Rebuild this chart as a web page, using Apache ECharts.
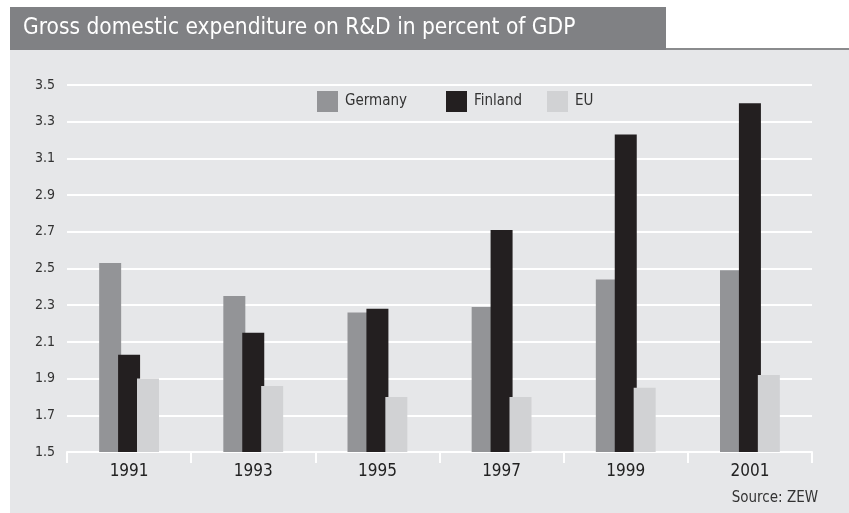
<!DOCTYPE html>
<html>
<head>
<meta charset="utf-8">
<script src="https://cdn.jsdelivr.net/npm/echarts@6/dist/echarts.min.js"></script>
<style>
  html, body { margin: 0; padding: 0; background: #ffffff; }
  #chart { width: 849px; height: 513px; }
</style>
</head>
<body>
<div id="chart"></div>
<script>
// R&D expenditure as a share of GDP, by year
const years = ['1991', '1993', '1995', '1997', '1999', '2001'];
const germany = [2.53, 2.35, 2.26, 2.29, 2.44, 2.49];
const finland = [2.03, 2.15, 2.28, 2.71, 3.23, 3.40];
const eu = [1.90, 1.86, 1.80, 1.80, 1.85, 1.92];
const seriesNames = ['Germany', 'Finland', 'EU'];
const yTicks = { min: 1.5, max: 3.5, step: 0.2 };

const FONT = '"DejaVu Sans Condensed", "DejaVu Sans", sans-serif';
const colors = { Germany: '#939497', Finland: '#231f20', EU: '#d1d2d4' };

const chart = echarts.init(document.getElementById('chart'), null, { renderer: 'canvas' });

function legendAt(name, left) {
  return {
    data: [name],
    left: left,
    top: 91,
    padding: 0,
    itemWidth: 21,
    itemHeight: 21,
    itemGap: 0,
    icon: 'rect',
    selectedMode: false,
    textStyle: { fontFamily: FONT, fontSize: 15, color: '#333333', padding: [0, 0, 0, 2] }
  };
}

function barSeries(name, values) {
  return {
    name: name,
    type: 'bar',
    data: values,
    barWidth: 22,
    barGap: '-14%',
    itemStyle: { color: colors[name] },
    emphasis: { disabled: true }
  };
}

chart.setOption({
  animation: false,
  backgroundColor: '#ffffff',
  graphic: [
    // panel background
    { type: 'rect', left: 10, top: 50, shape: { width: 839, height: 463 }, style: { fill: '#e6e7e9' }, z: -10 },
    // title bar
    { type: 'rect', left: 10, top: 7, shape: { width: 656, height: 43 }, style: { fill: '#808184' }, z: -9 },
    // rule continuing the title bar
    { type: 'rect', left: 666, top: 48, shape: { width: 183, height: 2 }, style: { fill: '#8a8b8d' }, z: -9 },
    {
      type: 'text', left: 23, top: 17, z: 5,
      style: { text: 'Gross domestic expenditure on R&D in percent of GDP', fill: '#ffffff', font: '22.5px ' + FONT }
    },
    {
      type: 'text', right: 31, top: 491, z: 5,
      style: { text: 'Source: ZEW', fill: '#333333', font: '15px ' + FONT }
    }
  ],
  legend: [legendAt('Germany', 317), legendAt('Finland', 446), legendAt('EU', 547)],
  grid: { left: 67, right: 37, top: 85, bottom: 61, containLabel: false },
  xAxis: {
    type: 'category',
    data: years,
    axisLine: { lineStyle: { color: '#ffffff', width: 2 } },
    axisTick: { show: true, length: 11, lineStyle: { color: '#ffffff', width: 2 } },
    axisLabel: { fontFamily: FONT, fontSize: 17, color: '#222222', margin: 11 }
  },
  yAxis: {
    type: 'value',
    min: yTicks.min,
    max: yTicks.max,
    interval: yTicks.step,
    axisLine: { show: false },
    axisTick: { show: false },
    splitLine: { lineStyle: { color: '#ffffff', width: 2 } },
    axisLabel: {
      fontFamily: FONT, fontSize: 14, color: '#333333', margin: 12,
      formatter: v => v.toFixed(1)
    }
  },
  series: [
    barSeries('Germany', germany),
    barSeries('Finland', finland),
    barSeries('EU', eu)
  ]
});
</script>
</body>
</html>
